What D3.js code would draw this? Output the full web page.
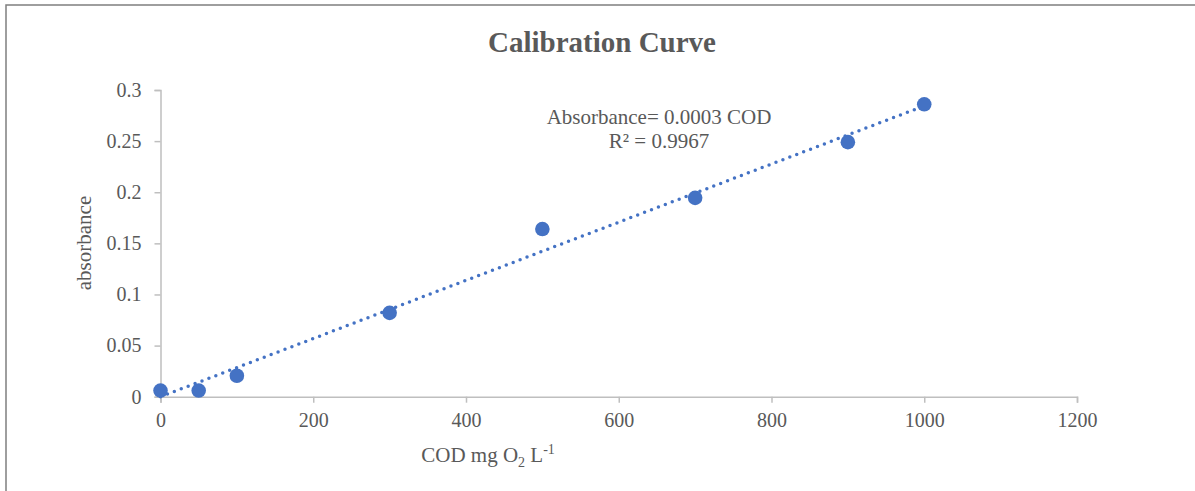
<!DOCTYPE html>
<html>
<head>
<meta charset="utf-8">
<script src="https://cdn.jsdelivr.net/npm/d3@7"></script>
<style>
  html, body { margin: 0; padding: 0; background: #fff; }
  svg { display: block; font-family: "Liberation Serif", "Times New Roman", serif; }
</style>
</head>
<body>
<svg id="chart" width="1195" height="491"></svg>
<script>
// ---- data ----
const codValues = [0, 50, 100, 300, 500, 700, 900, 1000];
const absorbanceValues = [0.006, 0.006, 0.0205, 0.082, 0.164, 0.1945, 0.249, 0.286];
const trendX = [0, 1000];
const trendY = [0, 0.2845];
const xTicks = [0, 200, 400, 600, 800, 1000, 1200];
const yTicks = [0, 0.05, 0.1, 0.15, 0.2, 0.25, 0.3];
const titleText = "Calibration Curve";
const equationLines = ["Absorbance= 0.0003 COD", "R\u00B2 = 0.9967"];

// ---- layout ----
const svg = d3.select("#chart");
const W = 1195, H = 491;
const plot = { left: 160.5, right: 1077, top: 90, bottom: 396.7 };
const textColor = "#595959";
const axisColor = "#bfbfbf";
const blue = "#4472C4";

// outer border
svg.append("rect")
  .attr("x", 6).attr("y", 5)
  .attr("width", W + 10).attr("height", H + 10)
  .attr("fill", "#fff")
  .attr("stroke", "#7f7f7f").attr("stroke-width", 1.5);

const x = d3.scaleLinear().domain([0, 1200]).range([plot.left, plot.right]);
const y = d3.scaleLinear().domain([0, 0.3]).range([plot.bottom, plot.top]);

// x axis
const xAxis = svg.append("g")
  .attr("transform", `translate(0,${plot.bottom})`)
  .call(d3.axisBottom(x).tickValues(xTicks).tickSize(6).tickPadding(10).tickFormat(d3.format("d")));
xAxis.select(".domain").attr("stroke", axisColor).attr("stroke-width", 1.5);
xAxis.selectAll(".tick line").attr("stroke", axisColor).attr("stroke-width", 1.5);
xAxis.selectAll(".tick text")
  .attr("fill", textColor).style("font-size", "20px")
  .style("font-family", "'Liberation Serif', 'Times New Roman', serif");

// y axis
const yAxis = svg.append("g")
  .attr("transform", `translate(${plot.left},0)`)
  .call(d3.axisLeft(y).tickValues(yTicks).tickSize(6).tickPadding(13).tickFormat(d => d3.format("~g")(d)));
yAxis.select(".domain").attr("stroke", axisColor).attr("stroke-width", 1.5);
yAxis.selectAll(".tick line").attr("stroke", axisColor).attr("stroke-width", 1.5);
yAxis.selectAll(".tick text")
  .attr("fill", textColor).style("font-size", "20px")
  .style("font-family", "'Liberation Serif', 'Times New Roman', serif");

// trendline (dotted)
const trendData = trendX.map((d, i) => [d, trendY[i]]);
svg.append("path")
  .datum(trendData)
  .attr("d", d3.line().x(d => x(d[0])).y(d => y(d[1])))
  .attr("fill", "none")
  .attr("stroke", blue)
  .attr("stroke-width", 3.5)
  .attr("stroke-linecap", "round")
  .attr("stroke-dasharray", "0 7.4");

// points
const pts = codValues.map((d, i) => [d, absorbanceValues[i]]);
svg.append("g").selectAll("circle")
  .data(pts).enter().append("circle")
  .attr("cx", d => x(d[0]))
  .attr("cy", d => y(d[1]))
  .attr("r", 7.3)
  .attr("fill", blue);

// title
svg.append("text")
  .attr("x", 602).attr("y", 52)
  .attr("text-anchor", "middle")
  .attr("fill", textColor)
  .style("font-size", "29px").style("font-weight", "bold")
  .text(titleText);

// equation
svg.append("g").selectAll("text")
  .data(equationLines).enter().append("text")
  .attr("x", 659)
  .attr("y", (d, i) => 123.5 + i * 24.5)
  .attr("text-anchor", "middle")
  .attr("fill", textColor)
  .style("font-size", "21px")
  .text(d => d);

// x axis title with subscript/superscript
const xt = svg.append("text")
  .attr("x", 488).attr("y", 461.5)
  .attr("text-anchor", "middle")
  .attr("fill", textColor)
  .style("font-size", "21px");
xt.append("tspan").text("COD mg O");
xt.append("tspan").attr("dy", 5).style("font-size", "14px").text("2");
xt.append("tspan").attr("dy", -5).text(" L");
xt.append("tspan").attr("dy", -8).style("font-size", "14px").text("-1");

// y axis title
svg.append("text")
  .attr("transform", "translate(91,243) rotate(-90)")
  .attr("text-anchor", "middle")
  .attr("fill", textColor)
  .style("font-size", "21px")
  .text("absorbance");
</script>
</body>
</html>
